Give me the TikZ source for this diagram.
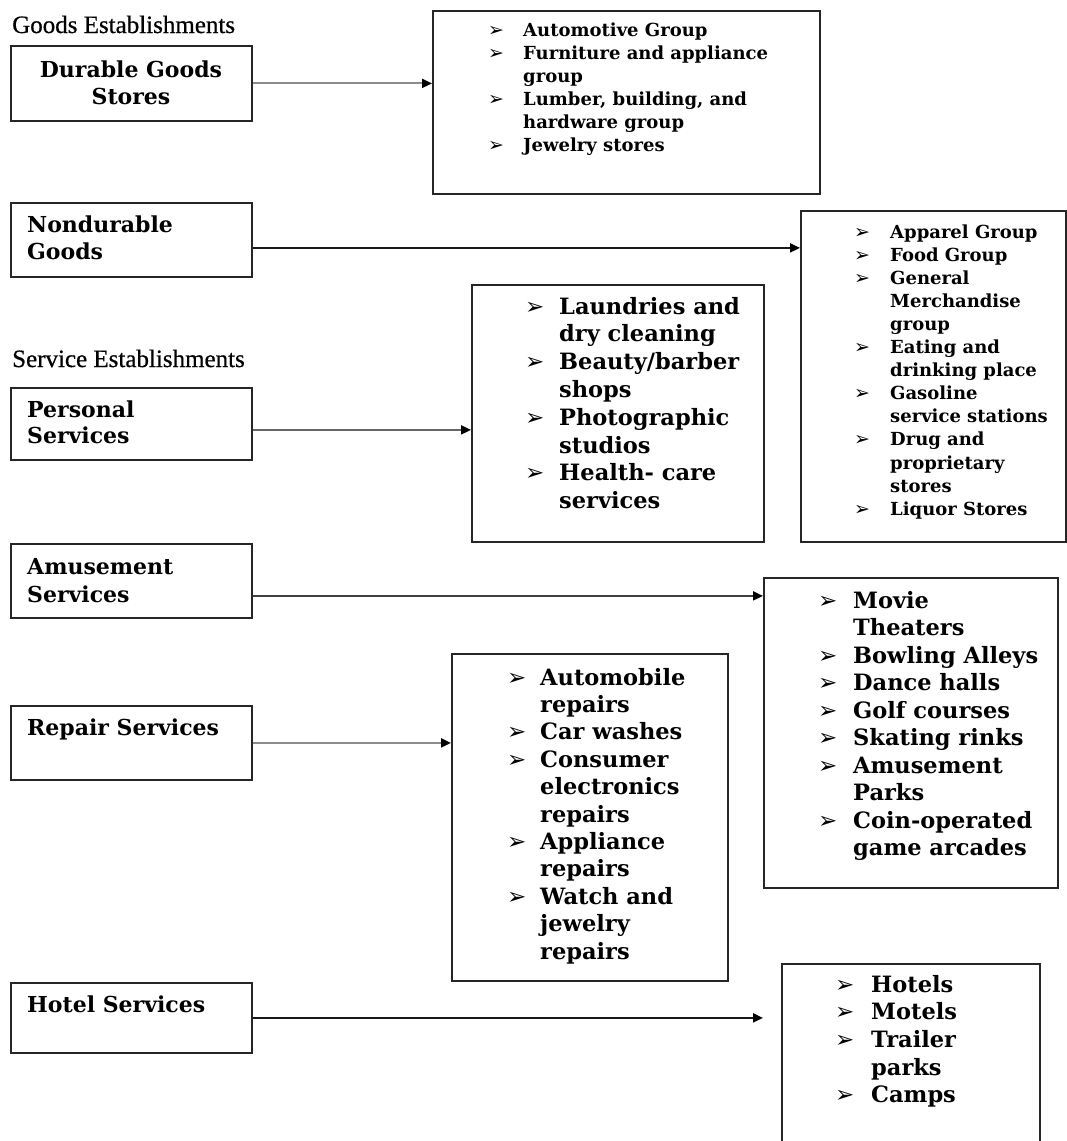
\documentclass[tikz,border=0pt]{standalone}
\usepackage{fontspec}
\usetikzlibrary{arrows.meta}
\newfontfamily\dvsb{DejaVu Serif Bold}
\newfontfamily\bulfont{DejaVu Sans}
\newfontfamily\hdrfont{Liberation Serif}[FakeBold=0.6]
\newlength\bw
\newcommand\bulsz{\fontsize{19}{19}\selectfont}
\newcommand\bl[1]{\makebox[\bw][l]{\bulfont\bulsz ➢}#1\par}
\newcommand\cl[1]{\hspace*{\bw}#1\par}
\newcommand\lst[4]{\parbox[t]{300pt}{\dvsb\fontsize{#1}{#2}\selectfont\lineskiplimit=-20pt\setlength\bw{#3}#4}}
\tikzset{
  outer/.style={draw=black!85, line width=1.8pt, inner sep=0pt},
  txt/.style={anchor=base west, inner sep=0pt},
  hdr/.style={anchor=base west, inner sep=0pt, font=\hdrfont\fontsize{25}{25}\selectfont},
  arr/.style={line width=2pt, -{Triangle[length=10pt,width=9pt,color=black]}},
}
\begin{document}
\begin{tikzpicture}[x=1pt,y=-1pt]
\useasboundingbox (0,0) rectangle (1067,1141);
\clip (0,0) rectangle (1067,1141);
% headers
\node[hdr] (h1) at (12,33) {Goods Establishments};
\node[hdr] (h2) at (12,367) {Service Establishments};
% left boxes
\node[outer, minimum width=241pt, minimum height=75pt, anchor=north west] (L1) at (10,45) {};
\node[outer, minimum width=241pt, minimum height=74pt, anchor=north west] (L2) at (10,202) {};
\node[outer, minimum width=241pt, minimum height=72pt, anchor=north west] (L3) at (10,387) {};
\node[outer, minimum width=241pt, minimum height=74pt, anchor=north west] (L4) at (10,543) {};
\node[outer, minimum width=241pt, minimum height=74pt, anchor=north west] (L5) at (10,705) {};
\node[outer, minimum width=241pt, minimum height=70pt, anchor=north west] (L6) at (10,982) {};
% left texts
\node[anchor=base, inner sep=0pt] (T1) at (131,77) {\parbox[t]{230pt}{\centering\dvsb\fontsize{22}{27}\selectfont Durable Goods\par Stores}};
\node[txt] (T2) at (27,232) {\lst{22}{27}{0pt}{Nondurable\par Goods}};
\node[txt] (T3) at (27,417) {\lst{22}{26}{0pt}{Personal\par Services}};
\node[txt] (T4) at (27,574) {\lst{22}{28}{0pt}{Amusement\par Services}};
\node[txt] (T5) at (27,735) {\lst{22}{27}{0pt}{Repair Services}};
\node[txt] (T6) at (27,1012) {\lst{22}{27}{0pt}{Hotel Services}};
% right boxes
\node[outer, minimum width=387pt, minimum height=183pt, anchor=north west] (B1) at (432,10) {};
\node[outer, minimum width=265pt, minimum height=331pt, anchor=north west] (B2) at (800,210) {};
\node[outer, minimum width=292pt, minimum height=257pt, anchor=north west] (B3) at (471,284) {};
\node[outer, minimum width=294pt, minimum height=310pt, anchor=north west] (B5) at (763,577) {};
\node[outer, minimum width=276pt, minimum height=327pt, anchor=north west] (B4) at (451,653) {};
\node[outer, minimum width=258pt, minimum height=200pt, anchor=north west] (B6) at (781,963) {};
% list texts
\node[txt] (S1) at (488,36) {\lst{18}{23}{35pt}{%
\bl{Automotive Group}
\bl{Furniture and appliance}
\cl{group}
\bl{Lumber, building, and}
\cl{hardware group}
\bl{Jewelry stores}}};
\node[txt] (S2) at (854,238) {\lst{18}{23.1}{36pt}{%
\bl{Apparel Group}
\bl{Food Group}
\bl{General}
\cl{Merchandise}
\cl{group}
\bl{Eating and}
\cl{drinking place}
\bl{Gasoline}
\cl{service stations}
\bl{Drug and}
\cl{proprietary}
\cl{stores}
\bl{Liquor Stores}}};
\renewcommand\bulsz{\fontsize{23}{23}\selectfont}
\node[txt] (S3) at (525,314) {\lst{22.5}{27.8}{34pt}{%
\bl{Laundries and}
\cl{dry cleaning}
\bl{Beauty/barber}
\cl{shops}
\bl{Photographic}
\cl{studios}
\bl{Health- care}
\cl{services}}};
\node[txt] (S4) at (507,685) {\lst{22.5}{27.4}{33pt}{%
\bl{Automobile}
\cl{repairs}
\bl{Car washes}
\bl{Consumer}
\cl{electronics}
\cl{repairs}
\bl{Appliance}
\cl{repairs}
\bl{Watch and}
\cl{jewelry}
\cl{repairs}}};
\node[txt] (S5) at (818,608) {\lst{22.5}{27.5}{35pt}{%
\bl{Movie}
\cl{Theaters}
\bl{Bowling Alleys}
\bl{Dance halls}
\bl{Golf courses}
\bl{Skating rinks}
\bl{Amusement}
\cl{Parks}
\bl{Coin-operated}
\cl{game arcades}}};
\node[txt] (S6) at (835,992) {\lst{22.5}{27.7}{36pt}{%
\bl{Hotels}
\bl{Motels}
\bl{Trailer}
\cl{parks}
\bl{Camps}}};
% connectors
\draw[arr, draw=black!45] (L1.east) -- (L1.east -| B1.west);
\draw[arr, draw=black!90] ([yshift=-8pt]L2.east) -- ([yshift=-8pt]L2.east -| B2.west);
\draw[arr, draw=black!60] ([yshift=-6pt]L3.east) -- ([yshift=-6pt]L3.east -| B3.west);
\draw[arr, draw=black!75] ([yshift=-15pt]L4.east) -- ([yshift=-15pt]L4.east -| B5.west);
\draw[arr, draw=black!45] (L5.east) -- (L5.east -| B4.west);
\draw[arr, draw=black!90] (L6.east) -- ([xshift=-18pt]L6.east -| B6.west);
\end{tikzpicture}
\end{document}
